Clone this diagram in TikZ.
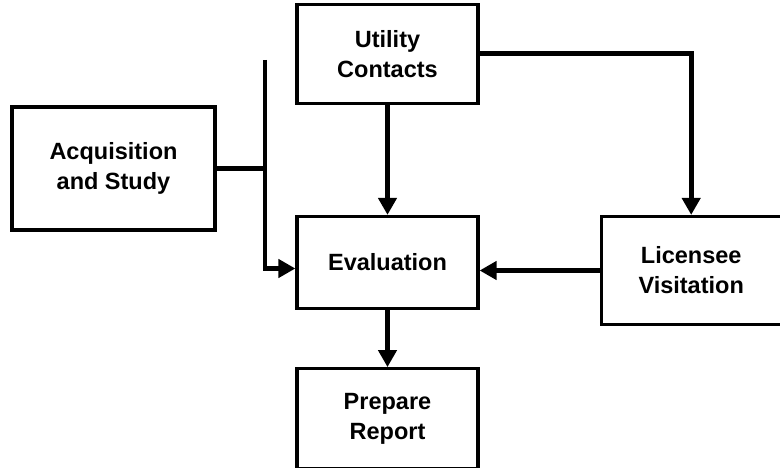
\documentclass[tikz,border=0pt]{standalone}
\usepackage{fontspec}
\setmainfont{Liberation Sans}
\usetikzlibrary{positioning, arrows.meta}

\begin{document}
\begin{tikzpicture}[
          x=1pt, y=-1pt,
          box/.style = {draw, line width=3.2pt, minimum width=181pt, minimum height=92pt, align=center, font=\fontsize{23.5}{30}\selectfont\bfseries, inner sep=0pt},
          flow/.style = {line width=4.6pt, -{Triangle[length=17pt,width=18pt]}},
          link/.style = {line width=4.6pt}
         ]
        \useasboundingbox (0,0) rectangle (780,468);

        % Bewertung in der Mitte
        \node[box] (eval) at (387.5,262.5) {Evaluation};

        % Kontakte oben
        \node[box, minimum height=99pt, above=110pt of eval] (util) {Utility\\Contacts};

        % Bericht unten
        \node[box, minimum height=100pt, below=57pt of eval] (report) {Prepare\\Report};

        % Beschaffung links
        \node[box, minimum width=203pt, minimum height=123pt] (acq) at (113.5,168.5) {Acquisition\\and Study};

        % Besuch rechts
        \node[box, minimum width=180pt, minimum height=108pt, right=120pt of eval.north east, anchor=north west] (lic) {Licensee\\Visitation};

        % Sammelleitung
        \coordinate (bustop) at (265,60);

        % Pfeile
        \draw[link] (acq.east) -- (acq.east -| bustop);
        \draw[flow] (bustop) |- ([yshift=-6pt]eval.west);
        \draw[flow] (util.south) -- (eval.north);
        \draw[flow] (util.east) -| (lic.north);
        \draw[flow] (lic.west) -- (lic.west -| eval.east);
        \draw[flow] (eval.south) -- (report.north);

\end{tikzpicture}
\end{document}
